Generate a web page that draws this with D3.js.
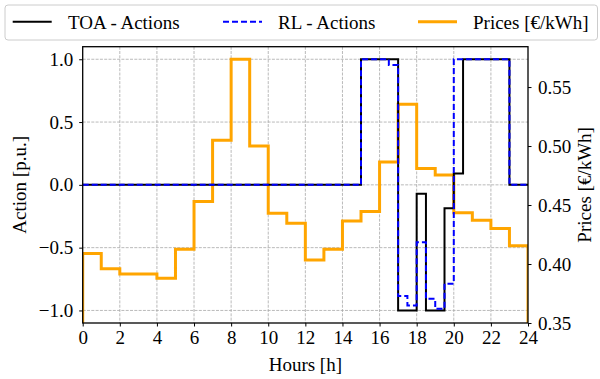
<!DOCTYPE html>
<html>
<head>
<meta charset="utf-8">
<script src="https://cdn.jsdelivr.net/npm/d3@7"></script>
<style>
  body { margin: 0; background: #fff; }
</style>
</head>
<body>
<figure id="chart" style="margin:0"></figure>
<script>
// hourly prices [€/kWh], one value per hour 0..23
const prices = [0.409, 0.396, 0.3915, 0.3915, 0.388, 0.4125, 0.453, 0.505, 0.5735, 0.500,
  0.443, 0.4345, 0.4035, 0.4125, 0.4365, 0.4445, 0.4865, 0.5355, 0.481, 0.4755,
  0.4435, 0.437, 0.43, 0.4155];

// actions at half-hour resolution (48 steps)
const toaActions = [
  0, 0, 0, 0, 0, 0, 0, 0, 0, 0, 0, 0, 0, 0, 0, 0, 0, 0, 0, 0, 0, 0, 0, 0, 0, 0, 0, 0, 0, 0,
  1, 1, 1, 1, -1, -1, -0.07, -1, -1, -0.186, 0.09, 1, 1, 1, 1, 1, 0, 0];
const rlActions = [
  0, 0, 0, 0, 0, 0, 0, 0, 0, 0, 0, 0, 0, 0, 0, 0, 0, 0, 0, 0, 0, 0, 0, 0, 0, 0, 0, 0, 0, 0,
  1, 1, 1, 0.955, -0.886, -0.96, -0.458, -0.907, -0.987, -0.788, 1, 1, 1, 1, 1, 1, 0, 0];

const xTicks = d3.range(0, 25, 2);
const actionTicks = [-1.0, -0.5, 0.0, 0.5, 1.0];
const priceTicks = [0.35, 0.40, 0.45, 0.50, 0.55];
const legendLabels = ["TOA - Actions", "RL - Actions", "Prices [€/kWh]"];

const width = 600, height = 379;
const margin = { top: 46.7, right: 72, bottom: 56, left: 82.7 };
const innerW = width - margin.left - margin.right;
const innerH = height - margin.top - margin.bottom;
const serif = "'Liberation Serif', serif";
const fontSize = "19px";

const svg = d3.select("figure#chart")
  .append("svg")
  .attr("width", width)
  .attr("height", height)
  .attr("font-family", serif);

const x = d3.scaleLinear().domain([0, 24]).range([margin.left, margin.left + innerW]);
const yAct = d3.scaleLinear().domain([-1.1, 1.1]).range([margin.top + innerH, margin.top]);
const yPrice = d3.scaleLinear().domain([0.35, 0.5842]).range([margin.top + innerH, margin.top]);

svg.append("defs").append("clipPath").attr("id", "plotclip")
  .append("rect")
  .attr("x", margin.left).attr("y", margin.top)
  .attr("width", innerW).attr("height", innerH);

// grid
const grid = svg.append("g").attr("stroke", "#a8a8a8").attr("stroke-width", 0.8)
  .attr("stroke-dasharray", "3,1.3");
grid.selectAll(".gx").data(xTicks.slice(1, -1)).enter().append("line")
  .attr("x1", d => x(d)).attr("x2", d => x(d))
  .attr("y1", margin.top).attr("y2", margin.top + innerH);
grid.selectAll(".gy").data(actionTicks).enter().append("line")
  .attr("x1", margin.left).attr("x2", margin.left + innerW)
  .attr("y1", d => yAct(d)).attr("y2", d => yAct(d));

const plot = svg.append("g").attr("clip-path", "url(#plotclip)");

// step lines (post)
const halfHourPts = arr => arr.map((v, i) => [i * 0.5, v]).concat([[24, arr[arr.length - 1]]]);
const actLine = d3.line().x(d => x(d[0])).y(d => yAct(d[1])).curve(d3.curveStepAfter);

// prices drop to the floor at both ends
const pricePts = [[0, 0.30]].concat(prices.map((v, i) => [i, v]), [[24, prices[23]], [24, 0.30]]);
const priceLine = d3.line().x(d => x(d[0])).y(d => yPrice(d[1]));

plot.append("path")
  .attr("d", priceLine(pricePts.flatMap((p, i) => i === 0 ? [p] : [[p[0], pricePts[i - 1][1]], p])))
  .attr("fill", "none")
  .attr("stroke", "orange")
  .attr("stroke-width", 3)
  .attr("stroke-linejoin", "miter");

plot.append("path")
  .attr("d", actLine(halfHourPts(toaActions)))
  .attr("fill", "none")
  .attr("stroke", "#000")
  .attr("stroke-width", 2);

plot.append("path")
  .attr("d", actLine(halfHourPts(rlActions)))
  .attr("fill", "none")
  .attr("stroke", "blue")
  .attr("stroke-width", 2)
  .attr("stroke-dasharray", "6,3");

// axes
const xAxis = svg.append("g")
  .attr("transform", `translate(0,${margin.top + innerH})`)
  .call(d3.axisBottom(x).tickValues(xTicks).tickSize(3.5).tickPadding(4).tickFormat(d3.format("d")));
const yAxisL = svg.append("g")
  .attr("transform", `translate(${margin.left},0)`)
  .call(d3.axisLeft(yAct).tickValues(actionTicks).tickSize(3.5).tickPadding(6)
    .tickFormat(d => d3.format(".1f")(d).replace("-", "\u2212")));
const yAxisR = svg.append("g")
  .attr("transform", `translate(${margin.left + innerW},0)`)
  .call(d3.axisRight(yPrice).tickValues(priceTicks).tickSize(3.5).tickPadding(6.5).tickFormat(d3.format(".2f")));

[xAxis, yAxisL, yAxisR].forEach(a => {
  a.attr("font-family", serif).attr("font-size", fontSize);
  a.select(".domain").remove();
  a.selectAll("line").attr("stroke", "#000").attr("stroke-width", 1);
  a.selectAll("text").attr("fill", "#000");
});

// frame
svg.append("rect")
  .attr("x", margin.left).attr("y", margin.top)
  .attr("width", innerW).attr("height", innerH)
  .attr("fill", "none").attr("stroke", "#000").attr("stroke-width", 1.3);

// axis labels
svg.append("text")
  .attr("x", x(12)).attr("y", 371)
  .attr("text-anchor", "middle").attr("font-size", fontSize)
  .text("Hours [h]");
svg.append("text")
  .attr("transform", `translate(25.5,${yAct(0)}) rotate(-90)`)
  .attr("text-anchor", "middle").attr("font-size", fontSize)
  .text("Action [p.u.]");
svg.append("text")
  .attr("transform", `translate(591,${yAct(0)}) rotate(-90)`)
  .attr("text-anchor", "middle").attr("font-size", fontSize)
  .text("Prices [€/kWh]");

// legend
const legend = svg.append("g");
legend.append("rect")
  .attr("x", 5).attr("y", 5).attr("width", 592.5).attr("height", 35).attr("rx", 3)
  .attr("fill", "#fff").attr("stroke", "#cccccc").attr("stroke-width", 1);
const legendItems = [
  { x0: 12.7, tx: 68, color: "#000", dash: null, w: 2 },
  { x0: 223, tx: 278, color: "blue", dash: "6,3", w: 2 },
  { x0: 418, tx: 473, color: "orange", dash: null, w: 3 }
];
legendItems.forEach((it, i) => {
  legend.append("line")
    .attr("x1", it.x0).attr("x2", it.x0 + 39).attr("y1", 21.7).attr("y2", 21.7)
    .attr("stroke", it.color).attr("stroke-width", it.w)
    .attr("stroke-dasharray", it.dash);
  legend.append("text")
    .attr("x", it.tx).attr("y", 28.5).attr("font-size", fontSize)
    .text(legendLabels[i]);
});
</script>
</body>
</html>
